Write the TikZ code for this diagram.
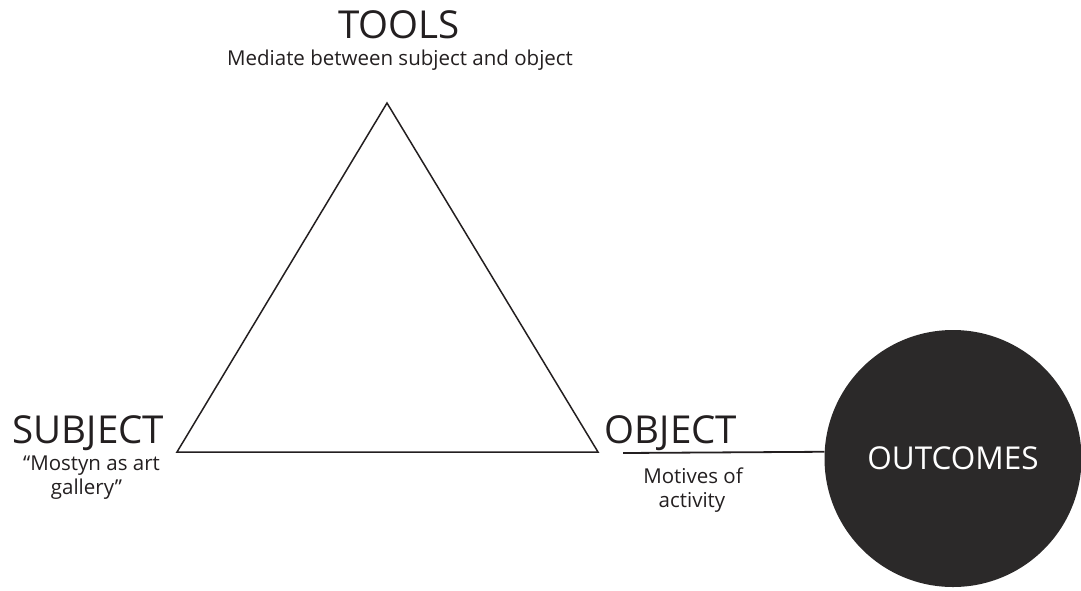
\documentclass[tikz,border=0pt]{standalone}
\usepackage{fontspec}
\setmainfont{Open Sans}
\definecolor{ink}{HTML}{231F20}
\definecolor{disc}{HTML}{2B2929}

\begin{document}
\begin{tikzpicture}[x=1pt,y=-1pt,
  big/.style={font=\fontsize{38.5}{40}\selectfont,text=ink,anchor=base,inner sep=0pt},
  small/.style={font=\fontsize{20.5}{24}\selectfont,text=ink,anchor=base,inner sep=0pt}]

  \useasboundingbox (0,0) rectangle (1081,590);

  \coordinate (t) at (387,103);
  \coordinate (s) at (177,452);
  \coordinate (o) at (598,452);
  \draw[line width=1.5pt,ink] (t) -- (s) -- (o) -- cycle;

  \draw (399,38) node[big] (tools) {TOOLS}
  ++(1,27) node[small] (toolsnote) {Mediate between subject and object};

  \draw (88.5,443) node[big] (subject) {SUBJECT}
  ++(3,27) node[small] (subjectnote) {“Mostyn as art}
  ++(-5,24) node[small] (subjectnote2) {gallery”};

  \draw (671,443) node[big] (object) {OBJECT}
  ++(22,40) node[small] (objectnote) {Motives of}
  ++(-1,24) node[small] (objectnote2) {activity};

  \node[circle,fill=disc,minimum size=257pt,inner sep=0pt,text=white,
    font=\fontsize{31.5}{34}\selectfont] (outcomes) at (953,458.5) {OUTCOMES};

  \coordinate (objline) at (623,453);
  \draw[line width=1.8pt,ink] (objline) -- (outcomes.177.5);

\end{tikzpicture}
\end{document}
